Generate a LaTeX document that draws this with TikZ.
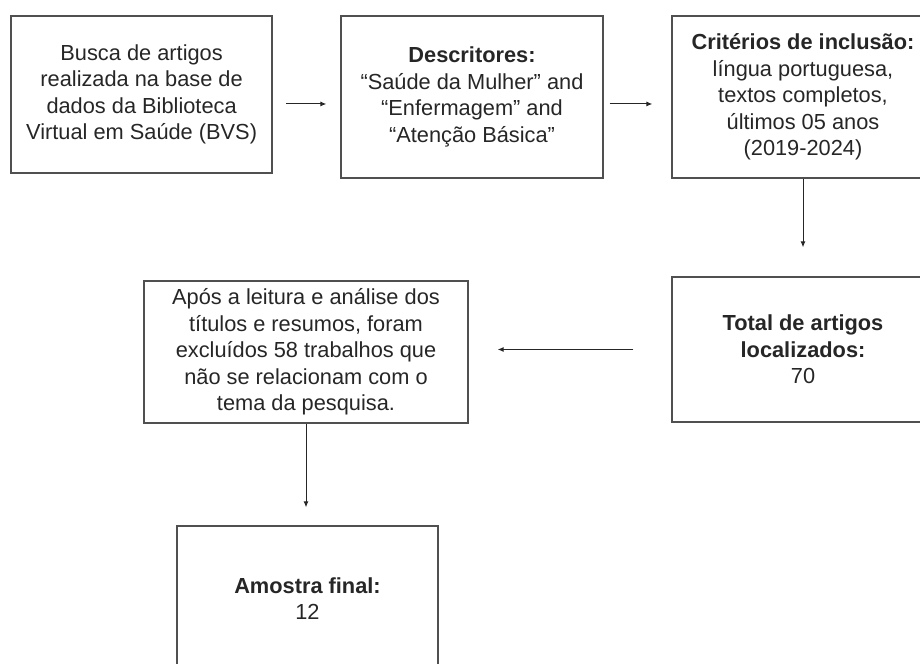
\documentclass[tikz,border=0pt]{standalone}
\usepackage{fontspec}
\setmainfont{Liberation Sans}
\usetikzlibrary{arrows.meta}
\definecolor{linha}{HTML}{505050}
\definecolor{texto}{HTML}{262626}
\tikzset{
  caixa/.style={draw=linha, line width=1pt, align=center, inner sep=0pt, text=texto,
    font=\fontsize{15.5}{18.8}\selectfont},
  seta/.style={-{Latex[length=1.5mm,width=1.3mm]}, draw=black!85, line width=0.7pt}
}
\begin{document}
\begin{tikzpicture}
    \useasboundingbox (0,0) rectangle (23,16.6);
    \clip (0,0) rectangle (23,16.6);

    % Draw the boxes
    \node[caixa, minimum width=6.525cm, minimum height=3.925cm] (busca) at (3.54,14.24)
      {Busca de artigos\\ realizada na base de\\ dados da Biblioteca\\ Virtual em Saúde (BVS)};
    \node[caixa, minimum width=6.55cm, minimum height=4.05cm] (descr) at (11.8,14.175)
      {\textbf{Descritores:}\\ “Saúde da Mulher" and\\ “Enfermagem" and\\ “Atenção Básica"};
    \node[caixa, minimum width=6.55cm, minimum height=4.05cm] (criterios) at (20.075,14.175)
      {\textbf{Critérios de inclusão:}\\ língua portuguesa,\\ textos completos,\\ últimos 05 anos\\ (2019-2024)};
    \node[caixa, minimum width=6.55cm, minimum height=3.625cm] (total) at (20.075,7.8625)
      {\textbf{Total de artigos}\\ \textbf{localizados:}\\ 70};
    \node[caixa, minimum width=8.1cm, minimum height=3.55cm] (apos) at (7.65,7.8)
      {Após a leitura e análise dos\\ títulos e resumos, foram\\ excluídos 58 trabalhos que\\ não se relacionam com o\\ tema da pesquisa.};
    \node[caixa, minimum width=6.525cm, minimum height=3.625cm] (amostra) at (7.6875,1.6375)
      {\textbf{Amostra final:}\\ 12};

    % Arrows between the boxes
    \draw[seta, shorten <=0.325cm, shorten >=0.35cm] ([yshift=-0.24cm]busca.east) -- ([yshift=-0.24cm]busca.east -| descr.west);
    \draw[seta, shorten <=0.15cm, shorten >=0.475cm] ([yshift=-0.175cm]descr.east) -- ([yshift=-0.175cm]descr.east -| criterios.west);
    \draw[seta, shorten >=0.725cm] (criterios.south) -- (total.north);
    \draw[seta, shorten <=0.95cm, shorten >=0.725cm] (total.west) -- (total.west -| apos.east);
    \draw[seta, shorten >=0.45cm] (apos.south) -- (apos.south |- amostra.north);
\end{tikzpicture}
\end{document}
